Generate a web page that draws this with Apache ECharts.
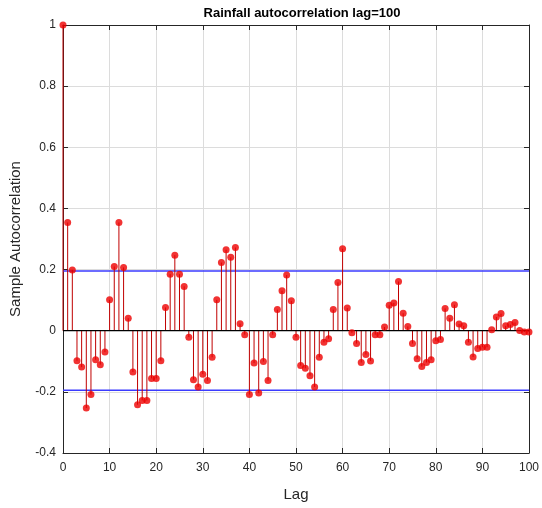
<!DOCTYPE html>
<html>
<head>
<meta charset="utf-8">
<script src="https://cdn.jsdelivr.net/npm/echarts@6/dist/echarts.min.js"></script>
<style>html,body{margin:0;padding:0;background:#fff}#c{width:542px;height:508px}</style>
</head>
<body>
<div id="c"></div>
<script>
const lags = Array.from({length: 101}, (_, i) => i);
const acf = [
  1.000, 0.354, 0.199, -0.098, -0.119, -0.253, -0.209, -0.095, -0.111, -0.070,
  0.101, 0.210, 0.354, 0.207, 0.041, -0.135, -0.242, -0.228, -0.228, -0.156,
  -0.156, -0.098, 0.076, 0.185, 0.247, 0.185, 0.145, -0.021, -0.160, -0.184,
  -0.142, -0.163, -0.087, 0.101, 0.223, 0.265, 0.240, 0.272, 0.023, -0.013,
  -0.209, -0.106, -0.204, -0.101, -0.163, -0.013, 0.069, 0.131, 0.182, 0.098,
  -0.021, -0.114, -0.123, -0.147, -0.184, -0.087, -0.038, -0.026, 0.069, 0.158,
  0.268, 0.074, -0.007, -0.042, -0.104, -0.078, -0.099, -0.013, -0.013, 0.012,
  0.083, 0.091, 0.161, 0.057, 0.014, -0.042, -0.092, -0.117, -0.104, -0.095,
  -0.033, -0.029, 0.073, 0.041, 0.085, 0.022, 0.016, -0.038, -0.086, -0.058,
  -0.054, -0.054, 0.003, 0.045, 0.056, 0.016, 0.020, 0.027, 0.001, -0.004,
  -0.004
];
const bound = 0.195;
const xTicks = [0, 10, 20, 30, 40, 50, 60, 70, 80, 90, 100];
const yTicks = [-0.4, -0.2, 0, 0.2, 0.4, 0.6, 0.8, 1];

const pts = lags.map((k, i) => [k, acf[i]]);
const axisColor = '#262626';
const font = 'Liberation Sans, Arial, sans-serif';

const chart = echarts.init(document.getElementById('c'), null, {renderer: 'canvas'});
chart.setOption({
  animation: false,
  backgroundColor: '#fff',
  title: {
    text: 'Rainfall autocorrelation lag=100',
    left: 297, top: 2, textAlign: 'center',
    textStyle: {fontFamily: font, fontSize: 13, fontWeight: 'bold', color: '#000'}
  },
  grid: {left: 62, right: 9, top: 25, bottom: 55, containLabel: false},
  xAxis: [{
    type: 'value', min: 0, max: 100, interval: 10,
    name: 'Lag', nameLocation: 'middle', nameGap: 34,
    nameTextStyle: {fontFamily: font, fontSize: 15, color: axisColor},
    axisLine: {show: true, onZero: false, lineStyle: {color: axisColor, width: 1}},
    axisTick: {show: true, inside: true, length: 5, lineStyle: {color: axisColor}},
    axisLabel: {fontFamily: font, fontSize: 12, color: axisColor, margin: 9},
    splitLine: {show: true, lineStyle: {color: '#dcdcdc', width: 1}}
  }, {
    type: 'value', min: 0, max: 100, interval: 10, position: 'top',
    axisLine: {show: true, onZero: false, lineStyle: {color: axisColor, width: 1}},
    axisTick: {show: true, inside: true, length: 5, lineStyle: {color: axisColor}},
    axisLabel: {show: false}, splitLine: {show: false}
  }],
  yAxis: [{
    type: 'value', min: -0.4, max: 1, interval: 0.2,
    name: 'Sample Autocorrelation', nameLocation: 'middle', nameGap: 40,
    nameTextStyle: {fontFamily: font, fontSize: 15, color: axisColor},
    axisLine: {show: true, onZero: false, lineStyle: {color: axisColor, width: 1}},
    axisTick: {show: true, inside: true, length: 5, lineStyle: {color: axisColor}},
    axisLabel: {fontFamily: font, fontSize: 12, color: axisColor, margin: 7,
      formatter: v => String(Math.round(v * 10) / 10)},
    splitLine: {show: true, lineStyle: {color: '#dcdcdc', width: 1}}
  }, {
    type: 'value', min: -0.4, max: 1, interval: 0.2, position: 'right',
    axisLine: {show: true, onZero: false, lineStyle: {color: axisColor, width: 1}},
    axisTick: {show: true, inside: true, length: 5, lineStyle: {color: axisColor}},
    axisLabel: {show: false}, splitLine: {show: false}
  }],
  series: [
    {
      type: 'line', data: [[0, bound], [100, bound]], symbol: 'none', silent: true,
      lineStyle: {color: '#3b3bff', width: 1.5}, z: 3
    },
    {
      type: 'line', data: [[0, -bound], [100, -bound]], symbol: 'none', silent: true,
      lineStyle: {color: '#3b3bff', width: 1.5}, z: 3
    },
    {
      type: 'custom', data: pts, z: 4,
      renderItem: (params, api) => {
        const p0 = api.coord([api.value(0), 0]);
        const p1 = api.coord([api.value(0), api.value(1)]);
        return {type: 'line', shape: {x1: p0[0], y1: p0[1], x2: p1[0], y2: p1[1]},
          style: {stroke: '#c00000', lineWidth: 1}};
      }
    },
    {
      type: 'line', data: [[0, 0], [100, 0]], symbol: 'none', silent: true,
      lineStyle: {color: '#000', width: 1.2}, z: 5
    },
    {
      type: 'scatter', data: pts, symbol: 'circle', symbolSize: 7, z: 6,
      itemStyle: {color: '#ee0000'}
    }
  ]
});
</script>
</body>
</html>
